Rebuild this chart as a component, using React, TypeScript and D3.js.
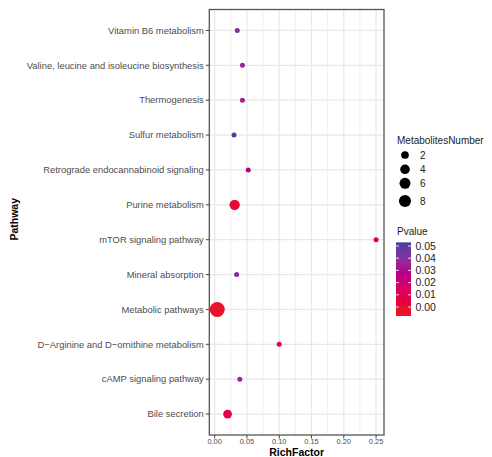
import React from "react";
import * as d3 from "d3";

const pathways = [
  "Vitamin B6 metabolism",
  "Valine, leucine and isoleucine biosynthesis",
  "Thermogenesis",
  "Sulfur metabolism",
  "Retrograde endocannabinoid signaling",
  "Purine metabolism",
  "mTOR signaling pathway",
  "Mineral absorption",
  "Metabolic pathways",
  "D\u2212Arginine and D\u2212ornithine metabolism",
  "cAMP signaling pathway",
  "Bile secretion",
];
const richFactor = [0.035, 0.043, 0.043, 0.03, 0.052, 0.031, 0.25, 0.034, 0.004, 0.1, 0.039, 0.02];
const metabolitesNumber = [1, 1, 1, 1, 1, 5, 1, 1, 15, 1, 1, 3];
const pvalues = [0.042, 0.035, 0.035, 0.053, 0.028, 0.001, 0.004, 0.04, 0.0, 0.009, 0.038, 0.006];

const xTicks = [0, 0.05, 0.1, 0.15, 0.2, 0.25];
const xMinor = [0.025, 0.075, 0.125, 0.175, 0.225];
const sizeBreaks = [2, 4, 6, 8];
const pBreaks = [0, 0.01, 0.02, 0.03, 0.04, 0.05];

const W = 492;
const H = 457;
const panel = { left: 209.3, right: 384, top: 9.5, bottom: 435 };
const FONT = "'Liberation Sans', Arial, Helvetica, sans-serif";

export default function App() {
  const [xmin, xmax] = d3.extent(richFactor) as [number, number];
  const pad = (xmax - xmin) * 0.05;
  const x = d3.scaleLinear().domain([xmin - pad, xmax + pad]).range([panel.left, panel.right]);
  const y = d3.scalePoint<string>().domain(pathways).range([panel.top, panel.bottom]).padding(0.6);

  const nMin = d3.min(metabolitesNumber) as number;
  const nMax = d3.max(metabolitesNumber) as number;
  const rLin = d3.scaleLinear().domain([0, Math.sqrt(nMax - nMin)]).range([2.5, 7.5]);
  const r = (v: number) => rLin(Math.sqrt(Math.max(0, v - nMin)));

  const pMax = d3.max(pvalues) as number;
  const color = d3
    .scaleLinear<string>()
    .domain([0, pMax])
    .range(["#E8122C", "#4840A0"])
    .interpolate(d3.interpolateHcl);

  // colorbar geometry
  const barX = 396;
  const barW = 15;
  const barY = d3.scaleLinear().domain([0, 0.05]).range([307, 246]);
  const barTop = barY(pMax);
  const barBottom = barY(0) + 9;
  const stops = d3.range(0, 21).map((i) => i / 20);

  const sizeYs = [155, 169.3, 183.3, 201];

  return (
    <svg
      width={W}
      height={H}
      style={{ position: "absolute", left: 0, top: 0, background: "#fff" }}
      fontFamily={FONT}
    >
      <defs>
        <linearGradient id="pgrad" x1="0" y1="1" x2="0" y2="0">
          {stops.map((t) => (
            <stop key={t} offset={t} stopColor={color(t * pMax)} />
          ))}
        </linearGradient>
      </defs>
      <rect x={0} y={0} width={W} height={H} fill="#fff" />

      {/* grid */}
      {xMinor.map((v) => (
        <line key={"mi" + v} x1={x(v)} x2={x(v)} y1={panel.top} y2={panel.bottom} stroke="#EFEFEF" strokeWidth={1} />
      ))}
      {xTicks.map((v) => (
        <line key={"ma" + v} x1={x(v)} x2={x(v)} y1={panel.top} y2={panel.bottom} stroke="#E8E8E8" strokeWidth={1.2} />
      ))}
      {pathways.map((p) => (
        <line key={"h" + p} x1={panel.left} x2={panel.right} y1={y(p)} y2={y(p)} stroke="#E8E8E8" strokeWidth={1.2} />
      ))}

      {/* points */}
      {pathways.map((p, i) => (
        <circle key={"c" + p} cx={x(richFactor[i])} cy={y(p)} r={r(metabolitesNumber[i])} fill={color(pvalues[i])} />
      ))}

      {/* panel border */}
      <rect
        x={panel.left}
        y={panel.top}
        width={panel.right - panel.left}
        height={panel.bottom - panel.top}
        fill="none"
        stroke="#555"
        strokeWidth={1.3}
      />

      {/* y axis */}
      {pathways.map((p) => (
        <g key={"yl" + p}>
          <line x1={panel.left - 3.5} x2={panel.left} y1={y(p)} y2={y(p)} stroke="#444" strokeWidth={1} />
          <text x={panel.left - 5.5} y={y(p)} dy="0.35em" textAnchor="end" fontSize={9.4} fill="#4D4D4D">
            {p}
          </text>
        </g>
      ))}

      {/* x axis */}
      {xTicks.map((v) => (
        <g key={"xl" + v}>
          <line x1={x(v)} x2={x(v)} y1={panel.bottom} y2={panel.bottom + 3.5} stroke="#444" strokeWidth={1} />
          <text x={x(v)} y={panel.bottom + 8.5} textAnchor="middle" fontSize={7.4} fill="#4D4D4D">
            {v.toFixed(2)}
          </text>
        </g>
      ))}

      <text x={(panel.left + panel.right) / 2} y={456} textAnchor="middle" fontSize={10.5} fontWeight="bold" fill="#000">
        RichFactor
      </text>
      <text
        transform={`translate(18, ${(panel.top + panel.bottom) / 2 - 3}) rotate(-90)`}
        textAnchor="middle"
        fontSize={10.5}
        fontWeight="bold"
        fill="#000"
      >
        Pathway
      </text>

      {/* size legend */}
      <text x={397} y={143.5} fontSize={10} fill="#222">
        MetabolitesNumber
      </text>
      {sizeBreaks.map((v, i) => (
        <g key={"s" + v}>
          <circle cx={405} cy={sizeYs[i]} r={r(v)} fill="#000" />
          <text x={420} y={sizeYs[i]} dy="0.35em" fontSize={10} fill="#222">
            {v}
          </text>
        </g>
      ))}

      {/* colour legend */}
      <text x={397} y={235} fontSize={10} fill="#222">
        Pvalue
      </text>
      <rect x={barX} y={barTop} width={barW} height={barY(0) - barTop} fill="url(#pgrad)" />
      <rect x={barX} y={barY(0)} width={barW} height={barBottom - barY(0)} fill={color(0)} />
      {pBreaks.map((v) => (
        <g key={"pb" + v}>
          <line x1={barX} x2={barX + 3} y1={barY(v)} y2={barY(v)} stroke="#fff" strokeWidth={0.8} />
          <line x1={barX + barW - 3} x2={barX + barW} y1={barY(v)} y2={barY(v)} stroke="#fff" strokeWidth={0.8} />
          <text x={415.5} y={barY(v)} dy="0.35em" fontSize={10.5} fill="#222">
            {v.toFixed(2)}
          </text>
        </g>
      ))}
    </svg>
  );
}
